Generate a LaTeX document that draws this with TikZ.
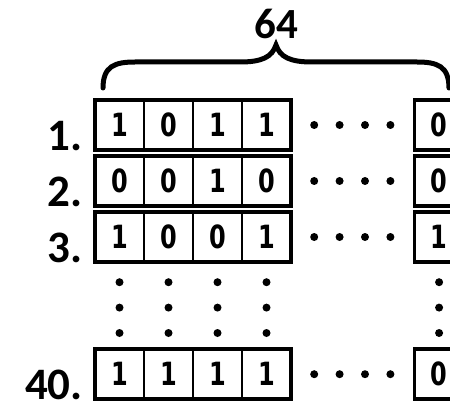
\documentclass[tikz,border=0pt]{standalone}
\usepackage{fontspec}
\setmainfont{Carlito}
\newfontfamily\bitfont{DejaVu Sans}[FakeStretch=0.75]
\newcommand\bitsize{\bitfont\bfseries\fontsize{32pt}{32pt}\selectfont}
\newcommand\lblsize{\bfseries\fontsize{45pt}{45pt}\selectfont}
\usepackage{tikz}
\usetikzlibrary{positioning}

\tikzset{
	bitbox/.style={draw=black,line width=2pt,minimum width=49pt,minimum height=50pt,inner sep=0pt,outer sep=0pt,font=\bitsize},
	frame/.style={line width=3.5pt},
	dot/.style={circle,fill=black,minimum size=8pt,inner sep=0pt},
	lbl/.style={font=\lblsize,inner sep=0pt,anchor=base east},
}

\begin{document}
\begin{tikzpicture}[x=1pt,y=-1pt]
			\useasboundingbox (0,0) rectangle (450,401);
			\clip (0,0) rectangle (450,401);
			% row 1
			\node[bitbox] (r1a) at (119.5,125) {1};
			\node[bitbox,right=0pt of r1a] (r1b) {0};
			\node[bitbox,right=0pt of r1b] (r1c) {1};
			\node[bitbox,right=0pt of r1c] (r1d) {1};
			\node[dot,right=19pt of r1d] (h1a) {};
			\node[dot,right=17pt of h1a] (h1b) {};
			\node[dot,right=17pt of h1b] (h1c) {};
			\node[dot,right=17pt of h1c] (h1d) {};
			\node[bitbox,right=20pt of h1d] (r1z) {0};
			\draw[frame] (r1a.north west) rectangle (r1d.south east);
			\draw[frame] (r1z.north west) rectangle (r1z.south east);
			\node[lbl] (n1) at ([xshift=-12pt]r1a.south west) {1.};
			% row 2
			\node[bitbox,below=6pt of r1a] (r2a) {0};
			\node[bitbox,right=0pt of r2a] (r2b) {0};
			\node[bitbox,right=0pt of r2b] (r2c) {1};
			\node[bitbox,right=0pt of r2c] (r2d) {0};
			\node[dot,right=19pt of r2d] (h2a) {};
			\node[dot,right=17pt of h2a] (h2b) {};
			\node[dot,right=17pt of h2b] (h2c) {};
			\node[dot,right=17pt of h2c] (h2d) {};
			\node[bitbox,right=20pt of h2d] (r2z) {0};
			\draw[frame] (r2a.north west) rectangle (r2d.south east);
			\draw[frame] (r2z.north west) rectangle (r2z.south east);
			\node[lbl] (n2) at ([xshift=-12pt]r2a.south west) {2.};
			% row 3
			\node[bitbox,below=6pt of r2a] (r3a) {1};
			\node[bitbox,right=0pt of r3a] (r3b) {0};
			\node[bitbox,right=0pt of r3b] (r3c) {0};
			\node[bitbox,right=0pt of r3c] (r3d) {1};
			\node[dot,right=19pt of r3d] (h3a) {};
			\node[dot,right=17pt of h3a] (h3b) {};
			\node[dot,right=17pt of h3b] (h3c) {};
			\node[dot,right=17pt of h3c] (h3d) {};
			\node[bitbox,right=20pt of h3d] (r3z) {1};
			\draw[frame] (r3a.north west) rectangle (r3d.south east);
			\draw[frame] (r3z.north west) rectangle (r3z.south east);
			\node[lbl] (n3) at ([xshift=-12pt]r3a.south west) {3.};
			% vertical dots
			\node[dot,below=16pt of r3a] (v1a) {};
			\node[dot,below=17pt of v1a] (v2a) {};
			\node[dot,below=17pt of v2a] (v3a) {};
			\node[dot,below=16pt of r3b] (v1b) {};
			\node[dot,below=17pt of v1b] (v2b) {};
			\node[dot,below=17pt of v2b] (v3b) {};
			\node[dot,below=16pt of r3c] (v1c) {};
			\node[dot,below=17pt of v1c] (v2c) {};
			\node[dot,below=17pt of v2c] (v3c) {};
			\node[dot,below=16pt of r3d] (v1d) {};
			\node[dot,below=17pt of v1d] (v2d) {};
			\node[dot,below=17pt of v2d] (v3d) {};
			\node[dot,below=16pt of r3z] (v1z) {};
			\node[dot,below=17pt of v1z] (v2z) {};
			\node[dot,below=17pt of v2z] (v3z) {};
			% row 40
			\node[bitbox,below=12pt of v3a] (r4a) {1};
			\node[bitbox,right=0pt of r4a] (r4b) {1};
			\node[bitbox,right=0pt of r4b] (r4c) {1};
			\node[bitbox,right=0pt of r4c] (r4d) {1};
			\node[dot,right=19pt of r4d] (h4a) {};
			\node[dot,right=17pt of h4a] (h4b) {};
			\node[dot,right=17pt of h4b] (h4c) {};
			\node[dot,right=17pt of h4c] (h4d) {};
			\node[bitbox,right=20pt of h4d] (r4z) {0};
			\draw[frame] (r4a.north west) rectangle (r4d.south east);
			\draw[frame] (r4z.north west) rectangle (r4z.south east);
			\node[lbl] (n4) at ([xshift=-12pt]r4a.south west) {40.};
			% brace and width
			\node[inner sep=0pt,font=\bfseries\fontsize{43pt}{43pt}\selectfont] (w) at (276,24) {64};
			\draw[line width=5pt,line cap=round] (103,88) .. controls (103,66) and (115,62) .. (135,62) -- (240,62) .. controls (262,62) and (272,57) .. (276,45) .. controls (280,57) and (290,62) .. (312,62) -- (417,62) .. controls (437,62) and (449,66) .. (449,88);
		\end{tikzpicture}
\end{document}
